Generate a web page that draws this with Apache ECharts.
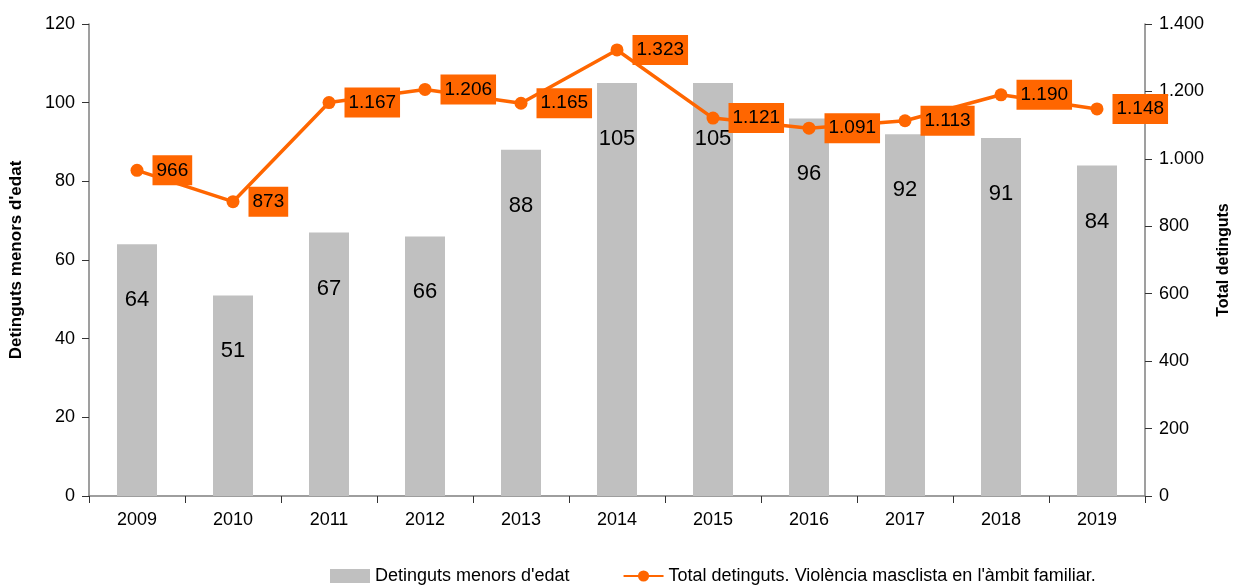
<!DOCTYPE html>
<html>
<head>
<meta charset="utf-8">
<script src="https://cdn.jsdelivr.net/npm/echarts@6/dist/echarts.min.js"></script>
<style>
    html, body { margin: 0; padding: 0; background: #fff; }
    #chart { width: 1240px; height: 585px; }
</style>
</head>
<body>
<div id="chart"></div>
<script>
// chart data
let years = ['2009', '2010', '2011', '2012', '2013', '2014', '2015', '2016', '2017', '2018', '2019'];
let minors = [64, 51, 67, 66, 88, 105, 105, 96, 92, 91, 84];
let totals = [966, 873, 1167, 1206, 1165, 1323, 1121, 1091, 1113, 1190, 1148];

let barName = "Detinguts menors d'edat";
let lineName = "Total detinguts. Violència masclista en l'àmbit familiar.";

let font = "'Liberation Sans Narrow', 'Arial Narrow', 'Liberation Sans', sans-serif";

// 1148 -> 1.148
function thousands(v) {
    return String(v).replace(/\B(?=(\d{3})+(?!\d))/g, '.');
}

let axisLine = {show: true, lineStyle: {color: '#7f7f7f', width: 1.5}};
let axisTick = {show: true, length: 7, lineStyle: {color: '#333', width: 1}};

let myChart = echarts.init(document.getElementById('chart'));
let option = {
    animation: false,
    backgroundColor: '#fff',
    textStyle: {fontFamily: font},
    grid: {
        left: 88,
        right: 93,
        top: 24,
        bottom: 89,
        containLabel: false
    },
    legend: {
        left: 325,
        top: 562,
        itemGap: 53,
        itemWidth: 40,
        itemHeight: 14,
        textStyle: {fontFamily: font, fontSize: 18, color: '#000'},
        data: [
            {name: barName, icon: 'rect'},
            {name: lineName}
        ]
    },
    xAxis: {
        type: 'category',
        data: years,
        boundaryGap: true,
        axisLine: axisLine,
        axisTick: axisTick,
        axisLabel: {color: '#000', fontSize: 18, fontFamily: font, margin: 15}
    },
    yAxis: [
        {
            type: 'value',
            min: 0,
            max: 120,
            interval: 20,
            name: barName,
            nameLocation: 'middle',
            nameRotate: 90,
            nameGap: 64,
            nameTextStyle: {fontWeight: 'bold', fontSize: 17, color: '#000', fontFamily: font},
            splitLine: {show: false},
            axisLine: axisLine,
            axisTick: axisTick,
            axisLabel: {color: '#000', fontSize: 18, fontFamily: font, margin: 14}
        },
        {
            type: 'value',
            min: 0,
            max: 1400,
            interval: 200,
            position: 'right',
            name: 'Total detinguts',
            nameLocation: 'middle',
            nameRotate: 90,
            nameGap: 71,
            nameTextStyle: {fontWeight: 'bold', fontSize: 16, color: '#000', fontFamily: font},
            splitLine: {show: false},
            axisLine: axisLine,
            axisTick: axisTick,
            axisLabel: {
                color: '#000',
                fontSize: 18,
                fontFamily: font,
                margin: 14,
                formatter: function (v) {
                    return thousands(v);
                }
            }
        }
    ],
    series: [
        {
            name: barName,
            type: 'bar',
            yAxisIndex: 0,
            data: minors,
            barWidth: 40,
            itemStyle: {color: '#c0c0c0'},
            label: {
                show: true,
                position: 'insideTop',
                distance: 45,
                color: '#000',
                fontSize: 22,
                fontFamily: font
            }
        },
        {
            name: lineName,
            type: 'line',
            yAxisIndex: 1,
            data: totals,
            symbol: 'circle',
            symbolSize: 13,
            itemStyle: {color: '#ff6600'},
            lineStyle: {color: '#ff6600', width: 3.5},
            label: {
                show: true,
                position: 'right',
                distance: 9,
                color: '#000',
                fontSize: 19,
                fontFamily: font,
                backgroundColor: '#ff6600',
                padding: [6, 4, 5, 4],
                formatter: function (p) {
                    return thousands(p.value);
                }
            }
        }
    ]
};
myChart.setOption(option);
</script>
</body>
</html>
